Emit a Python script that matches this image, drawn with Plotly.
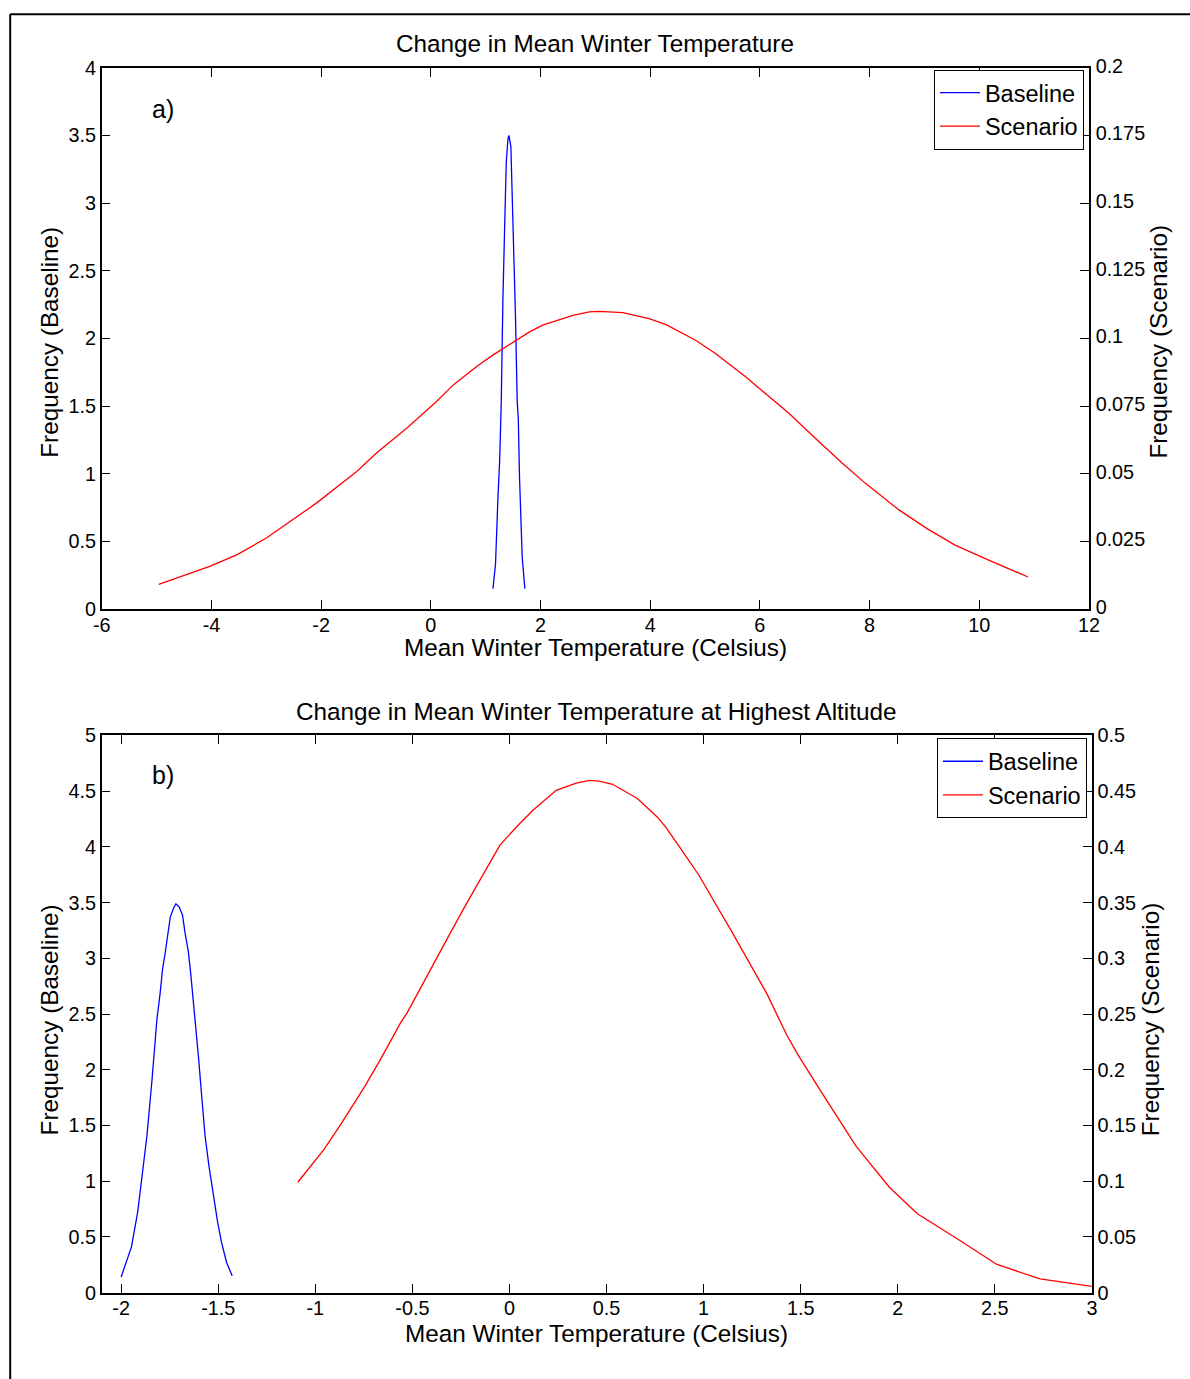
import plotly.graph_objects as go

# ---------------- data ----------------
# Panel a: Change in Mean Winter Temperature
a_base_x = [1.133, 1.18, 1.224, 1.255, 1.285, 1.30, 1.315, 1.35, 1.376, 1.406, 1.424,
            1.46, 1.485, 1.51, 1.545, 1.576, 1.595, 1.618, 1.667, 1.715]
a_base_y = [0.15, 0.33, 0.82, 1.09, 1.53, 1.97, 2.29, 2.88, 3.30, 3.47, 3.50,
            3.42, 3.05, 2.81, 2.15, 1.53, 1.41, 0.97, 0.38, 0.15]
a_scen_x = [-4.96, -4.02, -3.53, -2.99, -2.08, -1.35, -0.99, -0.44, 0.10, 0.41, 0.83,
            1.13, 1.80, 2.04, 2.59, 2.89, 3.07, 3.50, 3.98, 4.29, 4.83, 5.19, 5.74,
            6.10, 6.53, 7.04, 7.50, 7.92, 8.53, 9.07, 9.56, 10.10, 10.89]
a_scen_y = [0.0091, 0.0158, 0.0201, 0.0263, 0.0392, 0.0508, 0.0576, 0.0668, 0.0766,
            0.0828, 0.0895, 0.0938, 0.1024, 0.1049, 0.1085, 0.1098, 0.1100, 0.1095,
            0.1073, 0.1051, 0.0993, 0.0944, 0.0858, 0.0797, 0.0723, 0.0625, 0.0539,
            0.0465, 0.0367, 0.0294, 0.0236, 0.0187, 0.0118]

# Panel b: Change in Mean Winter Temperature at Highest Altitude
b_base_x = [-2.0, -1.947, -1.915, -1.889, -1.867, -1.841, -1.828, -1.816, -1.799, -1.787,
            -1.773, -1.756, -1.747, -1.730, -1.718, -1.701, -1.684, -1.671, -1.654, -1.642,
            -1.620, -1.602, -1.585, -1.568, -1.548, -1.525, -1.503, -1.483, -1.457, -1.428]
b_base_y = [0.14, 0.41, 0.72, 1.08, 1.41, 1.91, 2.18, 2.45, 2.69, 2.90,
            3.05, 3.26, 3.37, 3.45, 3.49, 3.46, 3.39, 3.23, 3.06, 2.87,
            2.48, 2.12, 1.76, 1.41, 1.14, 0.87, 0.63, 0.45, 0.27, 0.15]
b_scen_x = [-1.09, -0.954, -0.868, -0.749, -0.664, -0.561, -0.527, -0.408, -0.305, -0.220,
            -0.135, -0.049, 0.053, 0.121, 0.241, 0.344, 0.412, 0.463, 0.531, 0.659,
            0.761, 0.804, 0.881, 0.975, 1.145, 1.282, 1.325, 1.427, 1.487, 1.615,
            1.785, 1.957, 2.101, 2.306, 2.511, 2.733, 3.0]
b_scen_y = [0.0990, 0.1288, 0.1512, 0.1840, 0.2093, 0.2421, 0.2511, 0.2898, 0.3226, 0.3495,
            0.3748, 0.4016, 0.4210, 0.4329, 0.4508, 0.4573, 0.4597, 0.4591, 0.4562, 0.4434,
            0.4269, 0.4180, 0.3986, 0.3748, 0.3239, 0.2808, 0.2685, 0.2316, 0.2131, 0.1776,
            0.1315, 0.0945, 0.0708, 0.0483, 0.0252, 0.0123, 0.0055]

# Tick labels
a_xtick_vals = [-6, -4, -2, 0, 2, 4, 6, 8, 10, 12]
a_xtick_text = ["-6", "-4", "-2", "0", "2", "4", "6", "8", "10", "12"]
a_ltick_vals = [0, 0.5, 1, 1.5, 2, 2.5, 3, 3.5, 4]
a_ltick_text = ["0", "0.5", "1", "1.5", "2", "2.5", "3", "3.5", "4"]
a_rtick_vals = [0, 0.025, 0.05, 0.075, 0.1, 0.125, 0.15, 0.175, 0.2]
a_rtick_text = ["0", "0.025", "0.05", "0.075", "0.1", "0.125", "0.15", "0.175", "0.2"]

b_xtick_vals = [-2, -1.5, -1, -0.5, 0, 0.5, 1, 1.5, 2, 2.5, 3]
b_xtick_text = ["-2", "-1.5", "-1", "-0.5", "0", "0.5", "1", "1.5", "2", "2.5", "3"]
b_ltick_vals = [0, 0.5, 1, 1.5, 2, 2.5, 3, 3.5, 4, 4.5, 5]
b_ltick_text = ["0", "0.5", "1", "1.5", "2", "2.5", "3", "3.5", "4", "4.5", "5"]
b_rtick_vals = [0, 0.05, 0.1, 0.15, 0.2, 0.25, 0.3, 0.35, 0.4, 0.45, 0.5]
b_rtick_text = ["0", "0.05", "0.1", "0.15", "0.2", "0.25", "0.3", "0.35", "0.4", "0.45", "0.5"]

# ---------------- layout helpers ----------------
W, H = 1190, 1379
# observed page -> picture mapping: picture = S * page + (CX, CY)
S, CX, CY = 0.986, 8.0, 10.0
FONT = "Liberation Sans, Arial, Helvetica, sans-serif"
BLUE = "#0000FF"
RED = "#FF0000"


def px(t):
    return ((t - CX) / S) / W


def py(t):
    return 1 - ((t - CY) / S) / H


fig = go.Figure()
fig.add_trace(go.Scatter(x=a_base_x, y=a_base_y, mode="lines", name="Baseline",
                         line=dict(color=BLUE, width=1.3), xaxis="x", yaxis="y", legend="legend"))
fig.add_trace(go.Scatter(x=a_scen_x, y=a_scen_y, mode="lines", name="Scenario",
                         line=dict(color=RED, width=1.3), xaxis="x", yaxis="y2", legend="legend"))
fig.add_trace(go.Scatter(x=b_base_x, y=b_base_y, mode="lines", name="Baseline",
                         line=dict(color=BLUE, width=1.3), xaxis="x2", yaxis="y3", legend="legend2"))
fig.add_trace(go.Scatter(x=b_scen_x, y=b_scen_y, mode="lines", name="Scenario",
                         line=dict(color=RED, width=1.3), xaxis="x2", yaxis="y4", legend="legend2"))

tickfont = dict(family=FONT, size=19.8, color="black")
common = dict(showgrid=False, zeroline=False, showline=True, linecolor="black", linewidth=1.5,
              ticks="inside", ticklen=9, tickwidth=1, tickcolor="black", tickfont=tickfont,
              fixedrange=True)

a_x0, a_x1, a_y0, a_y1 = 101, 1091, 65, 608
b_x0, b_x1, b_y0, b_y1 = 101, 1094, 735, 1294

fig.update_layout(
    width=W, height=H,
    margin=dict(l=0, r=0, t=0, b=0),
    paper_bgcolor="white", plot_bgcolor="white",
    font=dict(family=FONT, color="black"),
    xaxis=dict(domain=[px(a_x0), px(a_x1)], anchor="y", range=[-6, 12],
               tickvals=a_xtick_vals, ticktext=a_xtick_text, mirror="ticks",
               ticklabelstandoff=-2, **common),
    yaxis=dict(domain=[py(a_y1), py(a_y0)], anchor="x", range=[0, 4], side="left",
               tickvals=a_ltick_vals, ticktext=a_ltick_text, **common),
    yaxis2=dict(overlaying="y", anchor="x", side="right", range=[0, 0.2],
                tickvals=a_rtick_vals, ticktext=a_rtick_text, ticklabelshift=-2,
                ticklabelstandoff=1, **common),
    xaxis2=dict(domain=[px(b_x0), px(b_x1)], anchor="y3", range=[-2.1, 3],
                tickvals=b_xtick_vals, ticktext=b_xtick_text, mirror="ticks",
                ticklabelstandoff=-3, **common),
    yaxis3=dict(domain=[py(b_y1), py(b_y0)], anchor="x2", range=[0, 5], side="left",
                tickvals=b_ltick_vals, ticktext=b_ltick_text, **common),
    yaxis4=dict(overlaying="y3", anchor="x2", side="right", range=[0, 0.5],
                tickvals=b_rtick_vals, ticktext=b_rtick_text, **common),
    legend=dict(x=px(1086), y=py(67), xanchor="right", yanchor="top",
                bgcolor="white", bordercolor="black", borderwidth=1, itemwidth=40,
                font=dict(family=FONT, size=23.5, color="black"), tracegroupgap=0),
    legend2=dict(x=px(1089), y=py(738), xanchor="right", yanchor="top",
                 bgcolor="white", bordercolor="black", borderwidth=1, itemwidth=40,
                 font=dict(family=FONT, size=23.5, color="black"), tracegroupgap=0),
    showlegend=True,
)

big = dict(family=FONT, size=24.3, color="black")


def ann(text, x, y, angle=0, size=None):
    f = dict(big)
    if size:
        f["size"] = size
    fig.add_annotation(text=text, x=px(x), y=py(y), xref="paper", yref="paper",
                       showarrow=False, xanchor="center", yanchor="middle",
                       textangle=angle, font=f)


# Titles
ann("Change in Mean Winter Temperature", 596, 41)
ann("Change in Mean Winter Temperature at Highest Altitude", 597, 711)
# X axis titles
ann("Mean Winter Temperature (Celsius)", 596, 647)
ann("Mean Winter Temperature (Celsius)", 597, 1335)
# Y axis titles
ann("Frequency (Baseline)", 49, 340, angle=-90)
ann("Frequency (Scenario)", 1161, 340, angle=-90)
ann("Frequency (Baseline)", 49, 1020, angle=-90)
ann("Frequency (Scenario)", 1153, 1020, angle=-90)
# Panel labels
ann("a)", 162, 106, size=25)
ann("b)", 162, 775, size=25)

# Outer frame (left and top edges visible)
fig.add_shape(type="line", xref="paper", yref="paper", x0=1.2 / W, x1=1.2 / W, y0=1 - 1.2 / H, y1=-0.1,
              line=dict(color="black", width=2))
fig.add_shape(type="line", xref="paper", yref="paper", x0=1.2 / W, x1=1.1, y0=1 - 1.2 / H, y1=1 - 1.2 / H,
              line=dict(color="black", width=2))

fig.write_html("out.html", config={"displayModeBar": False},
               post_script="document.body.style.margin='0';document.body.style.padding='0';"
                           "document.body.style.overflow='hidden';")
